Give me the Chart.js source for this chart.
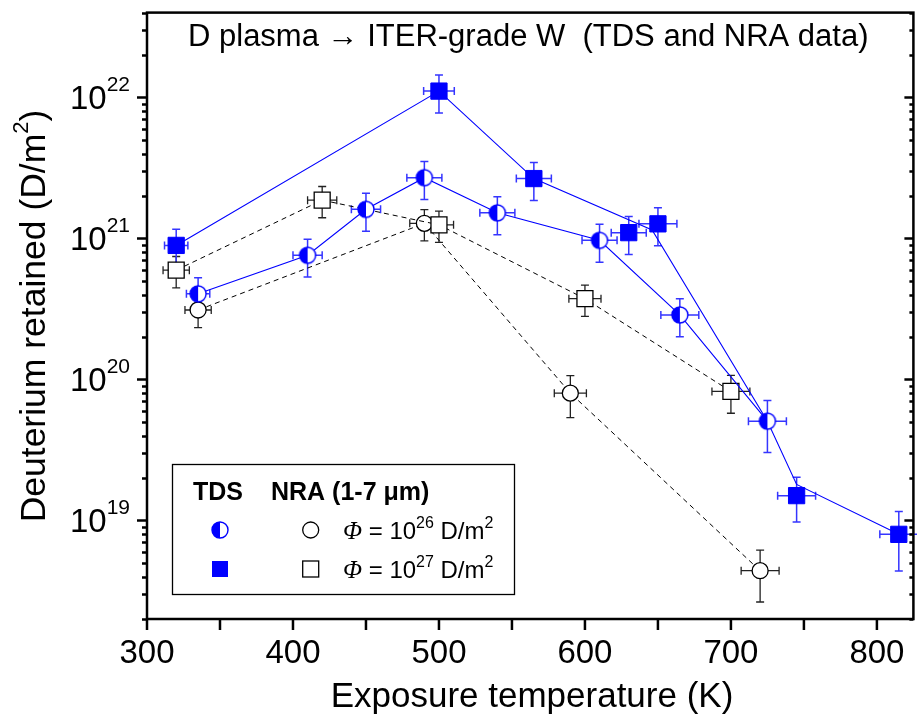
<!DOCTYPE html>
<html>
<head>
<meta charset="utf-8">
<script src="https://cdn.jsdelivr.net/npm/chart.js@4.4.0/dist/chart.umd.min.js"></script>
<style>
  html, body { margin: 0; padding: 0; background: #fff; overflow: hidden; }
  canvas { display: block; }
</style>
</head>
<body>
<canvas id="chart" width="926" height="722" style="width:926px;height:722px"></canvas>
<script>
// TDS, fluence 1e26 D/m2 (half filled circles)
const tds26T = [335, 410, 450, 490, 540, 610, 665, 725];
const tds26D = [4.05e20, 7.6e20, 1.61e21, 2.70e21, 1.52e21, 9.7e20, 2.87e20, 5.06e19];
const tds26Rel = [0.3, 0.3, 0.3, 0.3, 0.3, 0.3, 0.3, 0.4];
const tds26dT = [8, 10, 10, 12, 12, 12, 13, 13];

// TDS, fluence 1e27 D/m2 (filled squares)
const tds27T = [320, 500, 565, 630, 650, 745, 815];
const tds27D = [8.93e20, 1.11e22, 2.66e21, 1.10e21, 1.27e21, 1.50e19, 7.97e18];
const tds27Rel = [0.3, 0.3, 0.3, 0.3, 0.3, 0.35, 0.45];
const tds27dT = [8, 10.5, 12, 12, 13, 13, 13];
// guide line drawn by hand in the original (does not go through every square)
const tds27LineT = [320, 500, 565, 646, 725, 745, 815];
const tds27LineD = [8.93e20, 1.11e22, 2.66e21, 1.15e21, 5.06e19, 1.8e19, 7.97e18];

// NRA (1-7 um), 1e26 (open circles)
const nra26T = [335, 490, 590, 720];
const nra26D = [3.11e20, 1.28e21, 8.0e19, 4.4e18];
const nra26Rel = [0.25, 0.25, 0.33, 0.4];
const nra26dT = [9, 10, 11, 13];

// NRA (1-7 um), 1e27 (open squares)
const nra27T = [320, 420, 500, 600, 700];
const nra27D = [5.96e20, 1.87e21, 1.25e21, 3.74e20, 8.23e19];
const nra27Rel = [0.25, 0.25, 0.25, 0.25, 0.3];
const nra27dT = [9, 10, 10, 11, 13];

const xTicks = [300, 400, 500, 600, 700, 800];
const yDecades = [19, 20, 21, 22];

const BLUE = '#0000ff';
const SANS = '"Liberation Sans", Arial, sans-serif';

function pts(xs, ys) { return xs.map((x, i) => ({ x: x, y: ys[i] })); }

// half filled circle marker
const halfCircle = (() => {
  const c = document.createElement('canvas');
  c.width = 20; c.height = 20;
  const g = c.getContext('2d');
  g.beginPath(); g.arc(10, 10, 8, 0, Math.PI * 2); g.fillStyle = '#fff'; g.fill();
  g.beginPath(); g.moveTo(10, 10); g.arc(10, 10, 8, Math.PI / 2, Math.PI * 1.5); g.closePath();
  g.fillStyle = BLUE; g.fill();
  g.beginPath(); g.arc(10, 10, 8, 0, Math.PI * 2); g.strokeStyle = BLUE; g.lineWidth = 1.4; g.stroke();
  return c;
})();

const errSets = [
  { t: nra26T, d: nra26D, rel: nra26Rel, dt: nra26dT, color: '#222', width: 1.3 },
  { t: nra27T, d: nra27D, rel: nra27Rel, dt: nra27dT, color: '#222', width: 1.3 },
  { t: tds26T, d: tds26D, rel: tds26Rel, dt: tds26dT, color: '#3535ff', width: 1.5 },
  { t: tds27T, d: tds27D, rel: tds27Rel, dt: tds27dT, color: '#3535ff', width: 1.5 }
];

const errorBars = {
  id: 'errorBars',
  beforeDatasetsDraw(chart) {
    const { ctx, scales: { x, y } } = chart;
    errSets.forEach(s => {
      ctx.save();
      ctx.strokeStyle = s.color;
      ctx.lineWidth = s.width;
      s.t.forEach((t, i) => {
        const v = s.d[i];
        const px = x.getPixelForValue(t), py = y.getPixelForValue(v);
        const yTop = y.getPixelForValue(v * (1 + s.rel[i]));
        const yBot = y.getPixelForValue(v * (1 - s.rel[i]));
        const xL = x.getPixelForValue(t - s.dt[i]);
        const xR = x.getPixelForValue(t + s.dt[i]);
        ctx.beginPath();
        ctx.moveTo(px, yTop); ctx.lineTo(px, yBot);
        ctx.moveTo(px - 4, yTop); ctx.lineTo(px + 4, yTop);
        ctx.moveTo(px - 4, yBot); ctx.lineTo(px + 4, yBot);
        ctx.moveTo(xL, py); ctx.lineTo(xR, py);
        ctx.moveTo(xL, py - 4); ctx.lineTo(xL, py + 4);
        ctx.moveTo(xR, py - 4); ctx.lineTo(xR, py + 4);
        ctx.stroke();
      });
      ctx.restore();
    });
  }
};

// text with superscripts: parts = [[text, font, dy], ...]
function richText(ctx, parts, x, y) {
  let cx = x;
  parts.forEach(p => {
    ctx.font = p[1];
    ctx.fillText(p[0], cx, y + (p[2] || 0));
    cx += ctx.measureText(p[0]).width;
  });
  return cx;
}
function richWidth(ctx, parts) {
  let w = 0;
  parts.forEach(p => { ctx.font = p[1]; w += ctx.measureText(p[0]).width; });
  return w;
}

const frame = {
  id: 'frame',
  afterDraw(chart) {
    const { ctx, chartArea: a, scales: { x, y } } = chart;
    ctx.save();
    ctx.strokeStyle = '#000';
    ctx.fillStyle = '#000';
    ctx.lineWidth = 2.5;
    ctx.strokeRect(a.left, a.top, a.right - a.left, a.bottom - a.top);

    // y ticks, log minor ticks
    ctx.beginPath();
    for (let e = 18; e <= 22; e++) {
      for (let m = 1; m <= 9; m++) {
        const v = m * Math.pow(10, e);
        if (v < y.min * 0.999 || v > y.max * 1.001) continue;
        const py = Math.round(y.getPixelForValue(v)) + 0.5;
        const major = m === 1;
        ctx.moveTo(a.left - (major ? 10 : 5), py); ctx.lineTo(a.left, py);
        ctx.moveTo(a.right - (major ? 9 : 4), py); ctx.lineTo(a.right, py);
      }
    }
    // x ticks
    for (let t = 300; t <= x.max; t += 50) {
      const px = x.getPixelForValue(t);
      ctx.moveTo(px, a.bottom); ctx.lineTo(px, a.bottom + 11);
    }
    ctx.stroke();

    // x tick labels
    ctx.font = '33px ' + SANS;
    ctx.textAlign = 'center';
    ctx.textBaseline = 'alphabetic';
    xTicks.forEach(t => ctx.fillText(String(t), x.getPixelForValue(t), 663));

    // y tick labels 10^n
    ctx.textAlign = 'left';
    yDecades.forEach(e => {
      const py = y.getPixelForValue(Math.pow(10, e));
      const parts = [['10', '33px ' + SANS, 0], [String(e), '21px ' + SANS, -18]];
      const w = richWidth(ctx, parts);
      richText(ctx, parts, 130 - w, py + 12);
    });

    // axis titles
    ctx.font = '35px ' + SANS;
    ctx.textAlign = 'center';
    ctx.fillText('Exposure temperature (K)', 532, 707);

    ctx.save();
    ctx.translate(45, 316);
    ctx.rotate(-Math.PI / 2);
    ctx.textAlign = 'left';
    const yParts = [['Deuterium retained (D/m', '35.5px ' + SANS, 0], ['2', '22px ' + SANS, -17], [')', '35.5px ' + SANS, 0]];
    const yw = richWidth(ctx, yParts);
    richText(ctx, yParts, -yw / 2, 0);
    ctx.restore();

    // plot title
    ctx.font = '31px ' + SANS;
    ctx.textAlign = 'left';
    ctx.fillText('D plasma \u2192 ITER-grade W  (TDS and NRA data)', 188, 46);

    // legend
    ctx.fillStyle = '#fff';
    ctx.fillRect(172.5, 464.5, 342, 130);
    ctx.lineWidth = 1.3;
    ctx.strokeRect(172.5, 464.5, 342, 130);
    ctx.fillStyle = '#000';
    ctx.font = 'bold 25px ' + SANS;
    ctx.fillText('TDS', 193, 500);
    ctx.fillText('NRA (1-7 \u03bcm)', 271, 500);

    ctx.drawImage(halfCircle, 220 - 10, 530 - 10);
    ctx.beginPath(); ctx.arc(310.7, 530, 8, 0, Math.PI * 2);
    ctx.fillStyle = '#fff'; ctx.fill(); ctx.strokeStyle = '#000'; ctx.lineWidth = 1.3; ctx.stroke();
    ctx.fillStyle = BLUE; ctx.fillRect(212, 561, 16, 16);
    ctx.fillStyle = '#fff'; ctx.fillRect(302.7, 561, 16, 16); ctx.strokeRect(302.7, 561, 16, 16);

    ctx.fillStyle = '#000';
    [[26, 539], [27, 578]].forEach(r => {
      richText(ctx, [
        ['\u03a6', 'italic 25px "Liberation Serif", serif', 0],
        [' = 10', '24px ' + SANS, 0],
        [String(r[0]), '16px ' + SANS, -11],
        [' D/m', '24px ' + SANS, 0],
        ['2', '16px ' + SANS, -11]
      ], 343, r[1]);
    });
    ctx.restore();
  }
};

new Chart(document.getElementById('chart'), {
  type: 'line',
  data: {
    datasets: [
      { data: pts(tds27T, tds27D), showLine: false, pointStyle: 'rect', pointRadius: 11.5,
        pointBackgroundColor: BLUE, pointBorderColor: BLUE, pointBorderWidth: 1, order: 1 },
      { data: pts(tds26T, tds26D), showLine: true, borderColor: BLUE, borderWidth: 1.1,
        pointStyle: halfCircle, pointRadius: 9, order: 2 },
      { data: pts(nra27T, nra27D), showLine: true, borderColor: '#000', borderWidth: 1, borderDash: [5, 4],
        pointStyle: 'rect', pointRadius: 11.3, pointBackgroundColor: '#fff', pointBorderColor: '#000',
        pointBorderWidth: 1.3, order: 3 },
      { data: pts(nra26T, nra26D), showLine: true, borderColor: '#000', borderWidth: 1, borderDash: [5, 4],
        pointStyle: 'circle', pointRadius: 8, pointBackgroundColor: '#fff', pointBorderColor: '#000',
        pointBorderWidth: 1.3, order: 4 },
      { data: pts(tds27LineT, tds27LineD), showLine: true, borderColor: BLUE, borderWidth: 1.1,
        pointRadius: 0, order: 5 }
    ]
  },
  options: {
    responsive: false,
    animation: false,
    layout: { padding: { left: 147, top: 7, right: 7.5, bottom: 103 } },
    plugins: { legend: { display: false }, tooltip: { enabled: false } },
    elements: { line: { tension: 0, fill: false } },
    scales: {
      x: { type: 'linear', min: 300, max: 825, display: false },
      y: { type: 'logarithmic', min: 2e18, max: 4e22, display: false }
    }
  },
  plugins: [errorBars, frame]
});
</script>
</body>
</html>
